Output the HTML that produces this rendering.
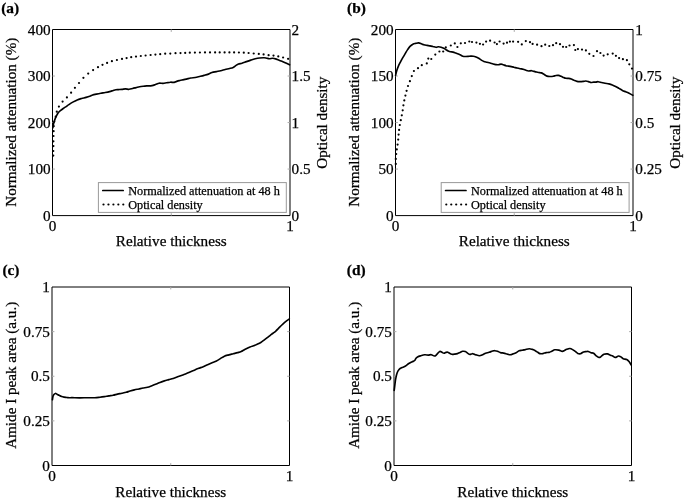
<!DOCTYPE html>
<html><head><meta charset="utf-8"><style>
html,body{margin:0;padding:0;background:#fff;overflow:hidden;width:685px;height:499px;}
svg{display:block;will-change:transform;}
text{font-family:"Liberation Serif",serif;fill:#000;stroke:#000;stroke-width:0.25px;}
</style></head><body>
<svg width="685" height="499" viewBox="0 0 685 499">
<rect width="685" height="499" fill="#fff"/>
<path d="M52.5,29.5 H290.0 V215.6 H52.5 Z" fill="none" stroke="#000" stroke-width="1"/>
<path d="M52.5,76.025 h2.4 M290.0,76.025 h-2.4 M52.5,122.55 h2.4 M290.0,122.55 h-2.4 M52.5,169.075 h2.4 M290.0,169.075 h-2.4 M171.25,29.5 v2.4 M171.25,215.6 v-2.4" fill="none" stroke="#aaa" stroke-width="1"/>
<path d="M395.5,29.5 H633.0 V215.6 H395.5 Z" fill="none" stroke="#000" stroke-width="1"/>
<path d="M395.5,76.025 h2.4 M633.0,76.025 h-2.4 M395.5,122.55 h2.4 M633.0,122.55 h-2.4 M395.5,169.075 h2.4 M633.0,169.075 h-2.4 M514.25,29.5 v2.4 M514.25,215.6 v-2.4" fill="none" stroke="#aaa" stroke-width="1"/>
<path d="M52.0,287.0 H289.5 V465.5 H52.0 Z" fill="none" stroke="#000" stroke-width="1"/>
<path d="M52.0,331.625 h2.4 M289.5,331.625 h-2.4 M52.0,376.25 h2.4 M289.5,376.25 h-2.4 M52.0,420.875 h2.4 M289.5,420.875 h-2.4 M170.75,287.0 v2.4 M170.75,465.5 v-2.4" fill="none" stroke="#aaa" stroke-width="1"/>
<path d="M394.0,287.0 H631.5 V465.5 H394.0 Z" fill="none" stroke="#000" stroke-width="1"/>
<path d="M394.0,331.625 h2.4 M631.5,331.625 h-2.4 M394.0,376.25 h2.4 M631.5,376.25 h-2.4 M394.0,420.875 h2.4 M631.5,420.875 h-2.4 M512.75,287.0 v2.4 M512.75,465.5 v-2.4" fill="none" stroke="#aaa" stroke-width="1"/>
<path d="M52.80,127.90 C52.85,127.63 52.97,127.03 53.10,126.30 C53.23,125.57 53.37,124.43 53.60,123.50 C53.83,122.57 54.17,121.68 54.50,120.70 C54.83,119.72 55.18,118.58 55.60,117.60 C56.02,116.62 56.53,115.65 57.00,114.80 C57.47,113.95 57.78,113.25 58.40,112.50 C59.02,111.75 59.85,111.00 60.70,110.30 C61.55,109.60 62.48,109.00 63.50,108.30 C64.52,107.60 65.98,106.67 66.80,106.10 C67.62,105.53 67.40,105.57 68.40,104.90 C69.40,104.23 71.33,102.93 72.80,102.10 C74.27,101.27 75.73,100.50 77.20,99.90 C78.67,99.30 80.12,98.92 81.60,98.50 C83.08,98.08 84.62,97.83 86.10,97.40 C87.58,96.97 89.52,96.27 90.50,95.90 C91.48,95.53 91.02,95.50 92.00,95.20 C92.98,94.90 94.93,94.43 96.40,94.10 C97.87,93.77 99.33,93.47 100.80,93.20 C102.27,92.93 103.73,92.77 105.20,92.50 C106.67,92.23 108.27,91.93 109.60,91.60 C110.93,91.27 112.17,90.80 113.20,90.50 C114.23,90.20 114.92,89.95 115.80,89.80 C116.68,89.65 117.47,89.68 118.50,89.60 C119.53,89.53 120.83,89.47 122.00,89.35 C123.17,89.23 124.32,88.91 125.50,88.90 C126.68,88.89 127.92,89.37 129.10,89.30 C130.28,89.23 131.43,88.78 132.60,88.50 C133.77,88.22 134.93,87.90 136.10,87.60 C137.27,87.30 138.42,86.93 139.60,86.70 C140.78,86.47 142.02,86.33 143.20,86.20 C144.38,86.07 145.23,86.00 146.70,85.90 C148.17,85.80 150.53,85.83 152.00,85.60 C153.47,85.37 154.32,84.90 155.50,84.50 C156.68,84.10 157.85,83.38 159.10,83.20 C160.35,83.02 161.75,83.47 163.00,83.40 C164.25,83.33 165.35,83.00 166.60,82.80 C167.85,82.60 169.25,82.27 170.50,82.20 C171.75,82.13 173.07,82.53 174.10,82.40 C175.13,82.27 175.83,81.70 176.70,81.40 C177.57,81.10 178.42,80.83 179.30,80.60 C180.18,80.38 180.82,80.30 182.00,80.05 C183.18,79.80 184.93,79.44 186.40,79.10 C187.87,78.76 189.33,78.27 190.80,78.00 C192.27,77.73 193.73,77.75 195.20,77.50 C196.67,77.25 198.12,76.85 199.60,76.50 C201.08,76.15 202.62,75.80 204.10,75.40 C205.58,75.00 207.18,74.58 208.50,74.10 C209.82,73.62 210.68,72.92 212.00,72.50 C213.32,72.08 214.93,71.90 216.40,71.60 C217.87,71.30 219.33,71.05 220.80,70.70 C222.27,70.35 223.73,69.87 225.20,69.50 C226.67,69.13 228.27,68.85 229.60,68.50 C230.93,68.15 232.17,67.88 233.20,67.40 C234.23,66.92 234.92,66.17 235.80,65.60 C236.68,65.03 237.47,64.40 238.50,64.00 C239.53,63.60 240.68,63.60 242.00,63.20 C243.32,62.80 244.93,62.12 246.40,61.60 C247.87,61.08 249.33,60.57 250.80,60.10 C252.27,59.63 253.73,59.15 255.20,58.80 C256.67,58.45 258.12,58.17 259.60,58.00 C261.08,57.83 262.92,57.77 264.10,57.80 C265.28,57.83 265.82,58.05 266.70,58.20 C267.58,58.35 268.40,58.68 269.40,58.70 C270.40,58.72 271.67,58.27 272.70,58.30 C273.73,58.33 274.63,58.60 275.60,58.90 C276.57,59.20 277.45,59.70 278.50,60.10 C279.55,60.50 280.78,60.87 281.90,61.30 C283.02,61.73 283.93,62.12 285.20,62.70 C286.47,63.28 288.78,64.45 289.50,64.80" fill="none" stroke="#000" stroke-width="1.65" stroke-linejoin="round" stroke-linecap="round"/>
<g fill="#000"><circle cx="53.30" cy="155.60" r="1.1"/><circle cx="53.30" cy="151.00" r="1.1"/><circle cx="53.40" cy="146.10" r="1.1"/><circle cx="53.40" cy="141.30" r="1.1"/><circle cx="53.50" cy="136.00" r="1.1"/><circle cx="53.60" cy="131.20" r="1.1"/><circle cx="53.70" cy="126.20" r="1.1"/><circle cx="54.30" cy="121.50" r="1.1"/><circle cx="55.70" cy="116.70" r="1.1"/><circle cx="56.80" cy="111.70" r="1.1"/><circle cx="58.90" cy="106.60" r="1.1"/><circle cx="62.60" cy="101.60" r="1.1"/><circle cx="66.90" cy="97.40" r="1.1"/><circle cx="71.10" cy="92.70" r="1.1"/><circle cx="74.90" cy="87.80" r="1.1"/><circle cx="79.00" cy="83.00" r="1.1"/><circle cx="83.40" cy="77.80" r="1.1"/><circle cx="88.20" cy="73.60" r="1.1"/><circle cx="93.10" cy="70.10" r="1.1"/><circle cx="98.00" cy="67.20" r="1.1"/><circle cx="102.50" cy="64.80" r="1.1"/><circle cx="107.10" cy="62.90" r="1.1"/><circle cx="111.90" cy="61.20" r="1.1"/><circle cx="116.90" cy="60.00" r="1.1"/><circle cx="122.00" cy="58.90" r="1.1"/><circle cx="126.60" cy="58.10" r="1.1"/><circle cx="131.20" cy="57.20" r="1.1"/><circle cx="136.00" cy="56.60" r="1.1"/><circle cx="140.80" cy="56.00" r="1.1"/><circle cx="145.60" cy="55.50" r="1.1"/><circle cx="150.60" cy="55.00" r="1.1"/><circle cx="155.40" cy="54.60" r="1.1"/><circle cx="160.20" cy="54.20" r="1.1"/><circle cx="165.20" cy="53.70" r="1.1"/><circle cx="170.30" cy="53.60" r="1.1"/><circle cx="175.50" cy="53.20" r="1.1"/><circle cx="180.50" cy="53.10" r="1.1"/><circle cx="185.20" cy="52.90" r="1.1"/><circle cx="189.80" cy="52.70" r="1.1"/><circle cx="194.90" cy="52.60" r="1.1"/><circle cx="199.90" cy="52.50" r="1.1"/><circle cx="205.00" cy="52.40" r="1.1"/><circle cx="210.00" cy="52.40" r="1.1"/><circle cx="215.10" cy="52.40" r="1.1"/><circle cx="219.70" cy="52.40" r="1.1"/><circle cx="224.60" cy="52.40" r="1.1"/><circle cx="229.40" cy="52.40" r="1.1"/><circle cx="234.10" cy="52.40" r="1.1"/><circle cx="238.90" cy="52.50" r="1.1"/><circle cx="243.80" cy="52.70" r="1.1"/><circle cx="248.60" cy="53.00" r="1.1"/><circle cx="253.70" cy="53.50" r="1.1"/><circle cx="258.80" cy="53.90" r="1.1"/><circle cx="263.60" cy="54.40" r="1.1"/><circle cx="268.60" cy="55.20" r="1.1"/><circle cx="273.50" cy="55.60" r="1.1"/><circle cx="278.30" cy="56.40" r="1.1"/><circle cx="283.10" cy="57.50" r="1.1"/><circle cx="288.10" cy="58.80" r="1.1"/></g>
<path d="M395.60,75.30 C395.80,74.50 396.33,72.03 396.80,70.50 C397.27,68.97 397.80,67.50 398.40,66.10 C399.00,64.70 399.67,63.50 400.40,62.10 C401.13,60.70 402.00,59.12 402.80,57.70 C403.60,56.28 404.40,54.95 405.20,53.60 C406.00,52.25 406.80,50.80 407.60,49.60 C408.40,48.40 409.12,47.30 410.00,46.40 C410.88,45.50 411.95,44.70 412.90,44.20 C413.85,43.70 414.75,43.62 415.70,43.40 C416.65,43.18 417.67,42.85 418.60,42.90 C419.53,42.95 420.42,43.38 421.30,43.70 C422.18,44.02 422.95,44.52 423.90,44.80 C424.85,45.08 425.97,45.22 427.00,45.40 C428.03,45.58 429.13,45.72 430.10,45.90 C431.07,46.08 431.83,46.27 432.80,46.50 C433.77,46.73 434.95,47.25 435.90,47.30 C436.85,47.35 437.63,46.82 438.50,46.80 C439.37,46.78 440.22,46.95 441.10,47.20 C441.98,47.45 442.98,47.88 443.80,48.30 C444.62,48.72 445.27,49.25 446.00,49.70 C446.73,50.15 447.47,50.65 448.20,51.00 C448.93,51.35 449.58,51.62 450.40,51.80 C451.22,51.98 452.22,51.90 453.10,52.10 C453.98,52.30 454.82,52.68 455.70,53.00 C456.58,53.32 457.58,53.67 458.40,54.00 C459.22,54.33 459.87,54.63 460.60,55.00 C461.33,55.37 462.00,55.95 462.80,56.20 C463.60,56.45 464.52,56.47 465.40,56.50 C466.28,56.53 467.22,56.47 468.10,56.40 C468.98,56.33 469.83,56.13 470.70,56.10 C471.57,56.07 472.42,56.05 473.30,56.20 C474.18,56.35 475.12,56.65 476.00,57.00 C476.88,57.35 477.72,57.78 478.60,58.30 C479.48,58.82 480.42,59.58 481.30,60.10 C482.18,60.62 482.95,61.05 483.90,61.40 C484.85,61.75 485.97,61.93 487.00,62.20 C488.03,62.47 489.07,62.70 490.10,63.00 C491.13,63.30 492.23,63.73 493.20,64.00 C494.17,64.27 495.02,64.48 495.90,64.60 C496.78,64.72 497.63,64.78 498.50,64.70 C499.37,64.62 500.30,64.10 501.10,64.10 C501.90,64.10 502.48,64.43 503.30,64.70 C504.12,64.97 505.12,65.47 506.00,65.70 C506.88,65.93 507.72,65.95 508.60,66.10 C509.48,66.25 510.42,66.42 511.30,66.60 C512.18,66.78 512.95,66.97 513.90,67.20 C514.85,67.43 515.97,67.75 517.00,68.00 C518.03,68.25 519.07,68.48 520.10,68.70 C521.13,68.92 522.23,69.03 523.20,69.30 C524.17,69.57 525.02,70.02 525.90,70.30 C526.78,70.58 527.55,70.93 528.50,71.00 C529.45,71.07 530.65,70.63 531.60,70.70 C532.55,70.77 533.47,71.20 534.20,71.40 C534.93,71.60 535.27,71.72 536.00,71.90 C536.73,72.08 537.72,72.33 538.60,72.50 C539.48,72.67 540.42,72.60 541.30,72.90 C542.18,73.20 542.95,73.77 543.90,74.30 C544.85,74.83 545.97,75.73 547.00,76.10 C548.03,76.47 549.07,76.47 550.10,76.50 C551.13,76.53 552.23,76.47 553.20,76.30 C554.17,76.13 555.02,75.65 555.90,75.50 C556.78,75.35 557.63,75.27 558.50,75.40 C559.37,75.53 560.22,75.93 561.10,76.30 C561.98,76.67 562.98,77.27 563.80,77.60 C564.62,77.93 565.20,78.17 566.00,78.30 C566.80,78.43 567.72,78.28 568.60,78.40 C569.48,78.52 570.42,78.70 571.30,79.00 C572.18,79.30 572.95,79.80 573.90,80.20 C574.85,80.60 575.97,81.17 577.00,81.40 C578.03,81.63 579.07,81.60 580.10,81.60 C581.13,81.60 582.23,81.50 583.20,81.40 C584.17,81.30 585.02,80.97 585.90,81.00 C586.78,81.03 587.63,81.35 588.50,81.60 C589.37,81.85 590.22,82.42 591.10,82.50 C591.98,82.58 592.98,82.17 593.80,82.10 C594.62,82.03 595.27,82.17 596.00,82.10 C596.73,82.03 597.27,81.63 598.20,81.70 C599.13,81.77 600.47,82.23 601.60,82.50 C602.73,82.77 603.78,83.07 605.00,83.30 C606.22,83.53 607.68,83.63 608.90,83.90 C610.12,84.17 611.18,84.48 612.30,84.90 C613.42,85.32 614.48,85.82 615.60,86.40 C616.72,86.98 617.87,87.73 619.00,88.40 C620.13,89.07 621.28,89.83 622.40,90.40 C623.52,90.97 624.58,91.33 625.70,91.80 C626.82,92.27 627.92,92.62 629.10,93.20 C630.28,93.78 632.18,94.95 632.80,95.30" fill="none" stroke="#000" stroke-width="1.65" stroke-linejoin="round" stroke-linecap="round"/>
<g fill="#000"><circle cx="395.80" cy="163.90" r="1.1"/><circle cx="395.80" cy="158.90" r="1.1"/><circle cx="396.20" cy="154.00" r="1.1"/><circle cx="396.80" cy="149.40" r="1.1"/><circle cx="397.60" cy="144.60" r="1.1"/><circle cx="398.20" cy="139.60" r="1.1"/><circle cx="398.60" cy="134.60" r="1.1"/><circle cx="399.10" cy="129.90" r="1.1"/><circle cx="399.80" cy="125.00" r="1.1"/><circle cx="400.80" cy="120.20" r="1.1"/><circle cx="401.80" cy="115.30" r="1.1"/><circle cx="402.70" cy="110.30" r="1.1"/><circle cx="403.40" cy="105.30" r="1.1"/><circle cx="404.30" cy="100.40" r="1.1"/><circle cx="405.40" cy="95.60" r="1.1"/><circle cx="406.60" cy="90.80" r="1.1"/><circle cx="408.00" cy="86.00" r="1.1"/><circle cx="409.90" cy="81.20" r="1.1"/><circle cx="411.80" cy="76.10" r="1.1"/><circle cx="413.90" cy="71.00" r="1.1"/><circle cx="418.00" cy="68.20" r="1.1"/><circle cx="421.80" cy="65.20" r="1.1"/><circle cx="426.80" cy="63.40" r="1.1"/><circle cx="428.30" cy="58.60" r="1.1"/><circle cx="431.30" cy="59.00" r="1.1"/><circle cx="435.30" cy="54.60" r="1.1"/><circle cx="439.40" cy="51.50" r="1.1"/><circle cx="443.20" cy="51.50" r="1.1"/><circle cx="445.80" cy="47.40" r="1.1"/><circle cx="450.80" cy="45.50" r="1.1"/><circle cx="454.80" cy="43.40" r="1.1"/><circle cx="457.40" cy="47.00" r="1.1"/><circle cx="460.80" cy="43.30" r="1.1"/><circle cx="465.00" cy="43.00" r="1.1"/><circle cx="469.30" cy="41.50" r="1.1"/><circle cx="472.00" cy="42.00" r="1.1"/><circle cx="476.40" cy="42.60" r="1.1"/><circle cx="479.90" cy="43.80" r="1.1"/><circle cx="483.10" cy="44.50" r="1.1"/><circle cx="486.10" cy="41.60" r="1.1"/><circle cx="490.10" cy="40.70" r="1.1"/><circle cx="494.60" cy="42.50" r="1.1"/><circle cx="496.90" cy="44.10" r="1.1"/><circle cx="499.60" cy="41.50" r="1.1"/><circle cx="503.60" cy="43.60" r="1.1"/><circle cx="507.00" cy="42.70" r="1.1"/><circle cx="509.90" cy="41.60" r="1.1"/><circle cx="513.10" cy="41.60" r="1.1"/><circle cx="518.10" cy="41.80" r="1.1"/><circle cx="521.80" cy="44.40" r="1.1"/><circle cx="525.80" cy="41.10" r="1.1"/><circle cx="530.00" cy="42.20" r="1.1"/><circle cx="532.60" cy="43.90" r="1.1"/><circle cx="537.10" cy="44.70" r="1.1"/><circle cx="541.50" cy="46.20" r="1.1"/><circle cx="545.20" cy="44.70" r="1.1"/><circle cx="549.30" cy="46.00" r="1.1"/><circle cx="553.00" cy="45.20" r="1.1"/><circle cx="556.20" cy="43.20" r="1.1"/><circle cx="560.00" cy="44.20" r="1.1"/><circle cx="563.00" cy="46.80" r="1.1"/><circle cx="566.20" cy="47.00" r="1.1"/><circle cx="569.50" cy="45.50" r="1.1"/><circle cx="573.90" cy="45.10" r="1.1"/><circle cx="575.30" cy="50.00" r="1.1"/><circle cx="577.90" cy="49.10" r="1.1"/><circle cx="582.00" cy="49.60" r="1.1"/><circle cx="585.90" cy="50.40" r="1.1"/><circle cx="589.30" cy="53.80" r="1.1"/><circle cx="593.50" cy="56.00" r="1.1"/><circle cx="597.00" cy="51.20" r="1.1"/><circle cx="600.40" cy="53.00" r="1.1"/><circle cx="603.60" cy="55.60" r="1.1"/><circle cx="607.70" cy="54.30" r="1.1"/><circle cx="612.70" cy="53.60" r="1.1"/><circle cx="615.90" cy="55.80" r="1.1"/><circle cx="619.10" cy="58.10" r="1.1"/><circle cx="622.90" cy="59.20" r="1.1"/><circle cx="626.90" cy="60.20" r="1.1"/><circle cx="629.30" cy="64.30" r="1.1"/><circle cx="632.00" cy="68.60" r="1.1"/></g>
<path d="M52.40,399.75 C52.50,399.17 52.75,397.13 53.00,396.25 C53.25,395.37 53.52,394.92 53.90,394.45 C54.28,393.98 54.78,393.50 55.30,393.45 C55.82,393.40 56.37,393.83 57.00,394.15 C57.63,394.47 58.33,394.95 59.10,395.35 C59.87,395.75 60.78,396.25 61.60,396.55 C62.42,396.85 63.13,397.00 64.00,397.15 C64.87,397.30 65.87,397.35 66.80,397.45 C67.73,397.55 68.73,397.72 69.60,397.75 C70.47,397.78 70.37,397.63 72.00,397.65 C73.63,397.67 76.85,397.83 79.40,397.85 C81.95,397.87 84.73,397.77 87.30,397.75 C89.87,397.73 92.68,397.83 94.80,397.75 C96.92,397.67 98.40,397.43 100.00,397.25 C101.60,397.07 102.93,396.88 104.40,396.65 C105.87,396.42 107.35,396.08 108.80,395.85 C110.25,395.62 111.65,395.53 113.10,395.25 C114.55,394.97 116.03,394.48 117.50,394.15 C118.97,393.82 120.43,393.57 121.90,393.25 C123.37,392.93 124.95,392.62 126.30,392.25 C127.65,391.88 128.65,391.45 130.00,391.05 C131.35,390.65 132.93,390.20 134.40,389.85 C135.87,389.50 137.35,389.25 138.80,388.95 C140.25,388.65 141.65,388.33 143.10,388.05 C144.55,387.77 146.03,387.65 147.50,387.25 C148.97,386.85 150.43,386.20 151.90,385.65 C153.37,385.10 154.95,384.49 156.30,383.95 C157.65,383.41 158.65,382.92 160.00,382.40 C161.35,381.88 162.93,381.31 164.40,380.85 C165.87,380.39 167.33,380.05 168.80,379.65 C170.27,379.25 171.73,378.92 173.20,378.45 C174.67,377.98 176.12,377.40 177.60,376.85 C179.08,376.30 180.62,375.70 182.10,375.15 C183.58,374.60 185.18,374.07 186.50,373.55 C187.82,373.03 188.68,372.62 190.00,372.05 C191.32,371.48 192.93,370.77 194.40,370.15 C195.87,369.53 197.33,368.93 198.80,368.35 C200.27,367.77 201.73,367.25 203.20,366.65 C204.67,366.05 206.12,365.38 207.60,364.75 C209.08,364.12 210.62,363.48 212.10,362.85 C213.58,362.22 215.18,361.62 216.50,360.95 C217.82,360.28 218.68,359.65 220.00,358.85 C221.32,358.05 222.93,356.82 224.40,356.15 C225.87,355.48 227.33,355.25 228.80,354.85 C230.27,354.45 231.73,354.12 233.20,353.75 C234.67,353.38 236.27,353.02 237.60,352.65 C238.93,352.28 240.02,352.07 241.20,351.55 C242.38,351.03 243.23,350.32 244.70,349.55 C246.17,348.78 248.52,347.58 250.00,346.95 C251.48,346.32 252.40,346.20 253.60,345.75 C254.80,345.30 256.00,344.80 257.20,344.25 C258.40,343.70 259.60,343.18 260.80,342.45 C262.00,341.72 263.20,340.75 264.40,339.85 C265.60,338.95 266.98,337.85 268.00,337.05 C269.02,336.25 269.68,335.68 270.50,335.05 C271.32,334.42 272.02,333.92 272.90,333.25 C273.78,332.58 274.83,331.90 275.80,331.05 C276.77,330.20 277.73,329.12 278.70,328.15 C279.67,327.18 280.65,326.17 281.60,325.25 C282.55,324.33 283.52,323.42 284.40,322.65 C285.28,321.88 286.08,321.25 286.90,320.65 C287.72,320.05 288.90,319.32 289.30,319.05" fill="none" stroke="#000" stroke-width="1.65" stroke-linejoin="round" stroke-linecap="round"/>
<path d="M394.20,390.40 C394.30,389.57 394.60,387.02 394.80,385.40 C395.00,383.78 395.17,382.20 395.40,380.70 C395.63,379.20 395.92,377.67 396.20,376.40 C396.48,375.13 396.77,374.05 397.10,373.10 C397.43,372.15 397.78,371.40 398.20,370.70 C398.62,370.00 399.10,369.37 399.60,368.90 C400.10,368.43 400.65,368.18 401.20,367.90 C401.75,367.62 402.18,367.52 402.90,367.20 C403.62,366.88 404.52,366.62 405.50,366.00 C406.48,365.38 407.68,364.20 408.80,363.50 C409.92,362.80 411.22,362.30 412.20,361.80 C413.18,361.30 414.07,361.10 414.70,360.50 C415.33,359.90 415.53,358.78 416.00,358.20 C416.47,357.62 416.77,357.38 417.50,357.00 C418.23,356.62 419.18,356.27 420.40,355.90 C421.62,355.53 423.48,354.93 424.80,354.80 C426.12,354.67 427.22,355.12 428.30,355.10 C429.38,355.08 430.28,354.55 431.30,354.70 C432.32,354.85 433.52,356.00 434.40,356.00 C435.28,356.00 435.72,355.47 436.60,354.70 C437.48,353.93 438.75,351.77 439.70,351.40 C440.65,351.03 441.58,352.20 442.30,352.50 C443.02,352.80 443.38,353.22 444.00,353.20 C444.62,353.18 445.37,352.57 446.00,352.40 C446.63,352.23 447.22,352.07 447.80,352.20 C448.38,352.33 448.85,352.85 449.50,353.20 C450.15,353.55 450.82,354.15 451.70,354.30 C452.58,354.45 453.85,354.22 454.80,354.10 C455.75,353.98 456.53,353.87 457.40,353.60 C458.27,353.33 459.13,352.88 460.00,352.50 C460.87,352.12 461.72,351.45 462.60,351.30 C463.48,351.15 464.42,351.25 465.30,351.60 C466.18,351.95 467.13,352.92 467.90,353.40 C468.67,353.88 469.17,354.45 469.90,354.50 C470.63,354.55 471.62,353.77 472.30,353.70 C472.98,353.63 473.38,353.90 474.00,354.10 C474.62,354.30 475.08,354.63 476.00,354.90 C476.92,355.17 478.40,355.73 479.50,355.70 C480.60,355.67 481.58,355.12 482.60,354.70 C483.62,354.28 484.52,353.60 485.60,353.20 C486.68,352.80 487.93,352.67 489.10,352.30 C490.27,351.93 491.65,351.27 492.60,351.00 C493.55,350.73 493.98,350.67 494.80,350.70 C495.62,350.73 496.55,350.88 497.50,351.20 C498.45,351.52 499.48,352.28 500.50,352.60 C501.52,352.92 502.68,352.92 503.60,353.10 C504.52,353.28 505.23,353.48 506.00,353.70 C506.77,353.92 507.47,354.23 508.20,354.40 C508.93,354.57 509.60,354.78 510.40,354.70 C511.20,354.62 512.05,354.23 513.00,353.90 C513.95,353.57 515.08,353.22 516.10,352.70 C517.12,352.18 518.08,351.20 519.10,350.80 C520.12,350.40 521.17,350.50 522.20,350.30 C523.23,350.10 524.13,349.85 525.30,349.60 C526.47,349.35 528.03,348.83 529.20,348.80 C530.37,348.77 531.42,349.17 532.30,349.40 C533.18,349.63 533.88,349.90 534.50,350.20 C535.12,350.50 535.45,350.85 536.00,351.20 C536.55,351.55 537.15,351.90 537.80,352.30 C538.45,352.70 539.03,353.38 539.90,353.60 C540.77,353.82 541.97,353.77 543.00,353.60 C544.03,353.43 545.08,352.80 546.10,352.60 C547.12,352.40 548.15,352.63 549.10,352.40 C550.05,352.17 550.85,351.63 551.80,351.20 C552.75,350.77 553.63,349.98 554.80,349.80 C555.97,349.62 557.55,349.83 558.80,350.10 C560.05,350.37 561.35,351.33 562.30,351.40 C563.25,351.47 563.88,350.80 564.50,350.50 C565.12,350.20 565.45,349.85 566.00,349.60 C566.55,349.35 567.15,349.18 567.80,349.00 C568.45,348.82 569.10,348.40 569.90,348.50 C570.70,348.60 571.72,349.12 572.60,349.60 C573.48,350.08 574.33,350.77 575.20,351.40 C576.07,352.03 576.92,353.02 577.80,353.40 C578.68,353.78 579.55,353.95 580.50,353.70 C581.45,353.45 582.57,352.25 583.50,351.90 C584.43,351.55 585.30,351.67 586.10,351.60 C586.90,351.53 587.48,351.32 588.30,351.50 C589.12,351.68 590.12,352.40 591.00,352.70 C591.88,353.00 592.73,352.78 593.60,353.30 C594.47,353.82 595.30,355.10 596.20,355.80 C597.10,356.50 598.20,357.37 599.00,357.50 C599.80,357.63 600.18,357.13 601.00,356.60 C601.82,356.07 602.83,354.75 603.90,354.30 C604.97,353.85 606.32,353.75 607.40,353.90 C608.48,354.05 609.52,354.85 610.40,355.20 C611.28,355.55 611.88,355.63 612.70,356.00 C613.52,356.37 614.33,357.40 615.30,357.40 C616.27,357.40 617.57,356.08 618.50,356.00 C619.43,355.92 620.12,356.45 620.90,356.90 C621.68,357.35 622.23,358.27 623.20,358.70 C624.17,359.13 625.73,359.02 626.70,359.50 C627.67,359.98 628.25,360.68 629.00,361.60 C629.75,362.52 630.83,364.43 631.20,365.00" fill="none" stroke="#000" stroke-width="1.65" stroke-linejoin="round" stroke-linecap="round"/>
<rect x="98.4" y="182.6" width="187.9" height="29.8" fill="#fff" stroke="#999" stroke-width="1"/>
<path d="M102.8,190.5 H123.2" stroke="#000" stroke-width="1.7" stroke-linecap="round"/>
<g fill="#000"><circle cx="103.50" cy="204.5" r="1.1"/><circle cx="108.45" cy="204.5" r="1.1"/><circle cx="113.40" cy="204.5" r="1.1"/><circle cx="118.35" cy="204.5" r="1.1"/><circle cx="123.30" cy="204.5" r="1.1"/></g>
<text x="128.2" y="194.6" font-size="12.25" text-anchor="start" >Normalized attenuation at 48 h</text>
<text x="128.2" y="208.6" font-size="12.25" text-anchor="start" >Optical density</text>
<rect x="441.20000000000005" y="182.6" width="187.9" height="29.8" fill="#fff" stroke="#999" stroke-width="1"/>
<path d="M445.6,190.5 H466.0" stroke="#000" stroke-width="1.7" stroke-linecap="round"/>
<g fill="#000"><circle cx="446.30" cy="204.5" r="1.1"/><circle cx="451.25" cy="204.5" r="1.1"/><circle cx="456.20" cy="204.5" r="1.1"/><circle cx="461.15" cy="204.5" r="1.1"/><circle cx="466.10" cy="204.5" r="1.1"/></g>
<text x="471.0" y="194.6" font-size="12.25" text-anchor="start" >Normalized attenuation at 48 h</text>
<text x="471.0" y="208.6" font-size="12.25" text-anchor="start" >Optical density</text>
<text x="50.6" y="34.6" font-size="15.2" text-anchor="end" >400</text>
<text x="50.6" y="81.12" font-size="15.2" text-anchor="end" >300</text>
<text x="50.6" y="127.65" font-size="15.2" text-anchor="end" >200</text>
<text x="50.6" y="174.17" font-size="15.2" text-anchor="end" >100</text>
<text x="50.6" y="220.7" font-size="15.2" text-anchor="end" >0</text>
<text x="291.6" y="34.6" font-size="15.2" text-anchor="start" >2</text>
<text x="291.6" y="81.12" font-size="15.2" text-anchor="start" >1.5</text>
<text x="291.6" y="127.65" font-size="15.2" text-anchor="start" >1</text>
<text x="291.6" y="174.17" font-size="15.2" text-anchor="start" >0.5</text>
<text x="291.6" y="220.7" font-size="15.2" text-anchor="start" >0</text>
<text x="393.6" y="34.6" font-size="15.2" text-anchor="end" >200</text>
<text x="393.6" y="81.12" font-size="15.2" text-anchor="end" >150</text>
<text x="393.6" y="127.65" font-size="15.2" text-anchor="end" >100</text>
<text x="393.6" y="174.17" font-size="15.2" text-anchor="end" >50</text>
<text x="393.6" y="220.7" font-size="15.2" text-anchor="end" >0</text>
<text x="635.3" y="34.6" font-size="15.2" text-anchor="start" >1</text>
<text x="635.3" y="81.12" font-size="15.2" text-anchor="start" >0.75</text>
<text x="635.3" y="127.65" font-size="15.2" text-anchor="start" >0.5</text>
<text x="635.3" y="174.17" font-size="15.2" text-anchor="start" >0.25</text>
<text x="635.3" y="220.7" font-size="15.2" text-anchor="start" >0</text>
<text x="49.9" y="292.1" font-size="15.2" text-anchor="end" >1</text>
<text x="49.9" y="336.73" font-size="15.2" text-anchor="end" >0.75</text>
<text x="49.9" y="381.35" font-size="15.2" text-anchor="end" >0.5</text>
<text x="49.9" y="425.98" font-size="15.2" text-anchor="end" >0.25</text>
<text x="49.9" y="470.6" font-size="15.2" text-anchor="end" >0</text>
<text x="391.9" y="292.1" font-size="15.2" text-anchor="end" >1</text>
<text x="391.9" y="336.73" font-size="15.2" text-anchor="end" >0.75</text>
<text x="391.9" y="381.35" font-size="15.2" text-anchor="end" >0.5</text>
<text x="391.9" y="425.98" font-size="15.2" text-anchor="end" >0.25</text>
<text x="391.9" y="470.6" font-size="15.2" text-anchor="end" >0</text>
<text x="52.5" y="231.3" font-size="15.2" text-anchor="middle" >0</text>
<text x="290.0" y="231.3" font-size="15.2" text-anchor="middle" >1</text>
<text x="171.25" y="245.8" font-size="15.2" text-anchor="middle" >Relative thickness</text>
<text x="395.5" y="231.3" font-size="15.2" text-anchor="middle" >0</text>
<text x="633.0" y="231.3" font-size="15.2" text-anchor="middle" >1</text>
<text x="514.25" y="245.8" font-size="15.2" text-anchor="middle" >Relative thickness</text>
<text x="52.0" y="481.4" font-size="15.2" text-anchor="middle" >0</text>
<text x="289.5" y="481.4" font-size="15.2" text-anchor="middle" >1</text>
<text x="170.75" y="496.7" font-size="15.2" text-anchor="middle" >Relative thickness</text>
<text x="394.0" y="481.4" font-size="15.2" text-anchor="middle" >0</text>
<text x="631.5" y="481.4" font-size="15.2" text-anchor="middle" >1</text>
<text x="512.75" y="496.7" font-size="15.2" text-anchor="middle" >Relative thickness</text>
<text transform="translate(15.6,122.2) rotate(-90)" font-size="15.15" text-anchor="middle">Normalized attenuation (%)</text>
<text transform="translate(358.6,122.2) rotate(-90)" font-size="15.15" text-anchor="middle">Normalized attenuation (%)</text>
<text transform="translate(327.1,122.7) rotate(-90)" font-size="15.15" text-anchor="middle">Optical density</text>
<text transform="translate(680.0,122.7) rotate(-90)" font-size="15.15" text-anchor="middle">Optical density</text>
<text transform="translate(15.8,375.3) rotate(-90)" font-size="15.15" text-anchor="middle">Amide I peak area (a.u.)</text>
<text transform="translate(359.0,375.3) rotate(-90)" font-size="15.15" text-anchor="middle">Amide I peak area (a.u.)</text>
<text x="1.2" y="12.6" font-size="15.4" text-anchor="start" font-weight="bold">(a)</text>
<text x="347.0" y="12.9" font-size="15.4" text-anchor="start" font-weight="bold">(b)</text>
<text x="2.4" y="274.9" font-size="15.4" text-anchor="start" font-weight="bold">(c)</text>
<text x="346.8" y="274.9" font-size="15.4" text-anchor="start" font-weight="bold">(d)</text>
</svg>
</body></html>
